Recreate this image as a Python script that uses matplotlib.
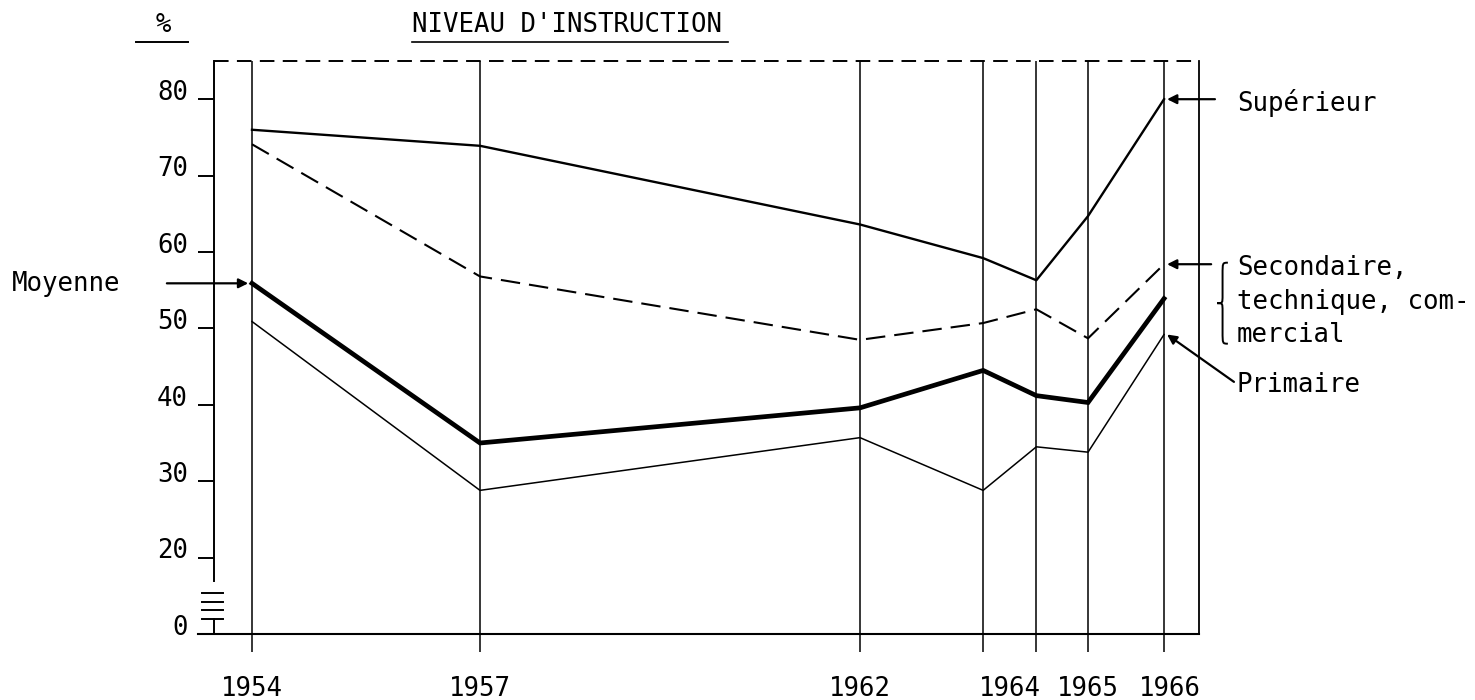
import matplotlib
matplotlib.use("Agg")
import matplotlib.pyplot as plt
from matplotlib.path import Path
from matplotlib.patches import PathPatch
from matplotlib.lines import Line2D

plt.rcParams['font.family'] = ['DejaVu Sans Mono', 'DejaVu Sans']
plt.rcParams['lines.scale_dashes'] = False

# survey dates (decimal years) and percentages
survey_dates = [1954, 1957, 1962, 1963.62, 1964.32, 1965.0, 1966.0]
superieur = [76.0, 73.9, 63.6, 59.2, 56.3, 64.7, 80.0]
secondaire = [74.1, 56.8, 48.5, 50.7, 52.5, 48.7, 58.4]
moyenne = [55.9, 35.0, 39.6, 44.5, 41.2, 40.3, 53.9]
primaire = [50.9, 28.8, 35.7, 28.8, 34.5, 33.8, 49.2]

year_labels = ['1954', '1957', '1962', '1964', '1965', '1966']
year_label_pos = [1954, 1957, 1962, 1963.97, 1965.0, 1966.08]
ytick_vals = [10, 20, 30, 40, 50, 60, 70, 80]
ytick_labels = ['0', '20', '30', '40', '50', '60', '70', '80']

FS = 18.5
X0, X1 = 1953.5, 1966.46
Y0, Y1 = 10, 85

fig = plt.figure(figsize=(14.75, 7), dpi=100)
ax = fig.add_axes([0.14508, 0.09429, 0.66780, 0.81857])
ax.set_xlim(X0, X1)
ax.set_ylim(Y0, Y1)
ax.axis('off')

# frame
ax.plot([X0, X1], [Y1, Y1], color='k', lw=1.4, dashes=(10.5, 6), clip_on=False)
ax.plot([X1, X1], [Y0, Y1], color='k', lw=1.3, clip_on=False)
ax.plot([1953.29, X1], [Y0, Y0], color='k', lw=1.5, clip_on=False)
ax.plot([X0, X0], [16.9, Y1], color='k', lw=1.4, clip_on=False)
ax.plot([X0, X0], [10, 12.0], color='k', lw=1.4, clip_on=False)
for yb in [15.4, 14.2, 13.2, 12.0]:
    ax.plot([1953.34, 1953.62], [yb, yb], color='k', lw=1.4, clip_on=False)

# survey verticals
ax.vlines(survey_dates, 7.6, Y1, color='k', lw=1.1, clip_on=False)

# y ticks and labels
ax.hlines(ytick_vals[1:], 1953.29, X0, color='k', lw=1.4, clip_on=False)
for v, lab in zip(ytick_vals, ytick_labels):
    ax.text(1953.16, v + 0.8, lab, ha='right', va='center', fontsize=FS)

# year labels
for p, lab in zip(year_label_pos, year_labels):
    ax.text(p, 2.8, lab, ha='center', va='center', fontsize=FS)

# series
ax.plot(survey_dates, superieur, color='k', lw=1.7, clip_on=False)
ax.plot(survey_dates, secondaire, color='k', lw=1.5, dashes=(14, 6.5), clip_on=False)
ax.plot(survey_dates, moyenne, color='k', lw=3.4, solid_joinstyle='miter', clip_on=False)
ax.plot(survey_dates, primaire, color='k', lw=1.1, clip_on=False)

arrow = dict(arrowstyle='-|>', color='k', lw=1.6, mutation_scale=14, shrinkA=0, shrinkB=0)

# left annotation
ax.text(1950.84, 55.75, 'Moyenne', ha='left', va='center', fontsize=FS)
ax.annotate('', xy=(1953.95, moyenne[0]), xytext=(1952.88, moyenne[0]),
            arrowprops=arrow, annotation_clip=False)

# right annotations
ax.annotate('', xy=(1966.04, superieur[-1]), xytext=(1966.67, superieur[-1]),
            arrowprops=arrow, annotation_clip=False)
ax.text(1966.96, 79.5, 'Supérieur', ha='left', va='center', fontsize=FS)

ax.annotate('', xy=(1966.04, secondaire[-1]), xytext=(1966.62, secondaire[-1]),
            arrowprops=arrow, annotation_clip=False)
ax.text(1966.96, 57.9, 'Secondaire,', ha='left', va='center', fontsize=FS)
ax.text(1966.96, 53.5, 'technique, com-', ha='left', va='center', fontsize=FS)
ax.text(1966.96, 49.2, 'mercial', ha='left', va='center', fontsize=FS)

ax.annotate('', xy=(1966.04, primaire[-1]), xytext=(1966.92, 43.0),
            arrowprops=arrow, annotation_clip=False)
ax.text(1966.96, 42.6, 'Primaire', ha='left', va='center', fontsize=FS)

# curly brace grouping the secondaire label
xl, xr = 1966.70, 1966.84
yb0, yb1 = 48.0, 58.6
xm = (xl + xr) / 2
ym = (yb0 + yb1) / 2
H = yb1 - yb0
verts = [(xr, yb1), (xm, yb1), (xm, yb1), (xm, yb1 - 0.15 * H),
         (xm, ym + 0.1 * H),
         (xm, ym), (xm, ym), (xl, ym),
         (xm, ym), (xm, ym), (xm, ym - 0.1 * H),
         (xm, yb0 + 0.15 * H),
         (xm, yb0), (xm, yb0), (xr, yb0)]
codes = [Path.MOVETO, Path.CURVE4, Path.CURVE4, Path.CURVE4,
         Path.LINETO,
         Path.CURVE4, Path.CURVE4, Path.CURVE4,
         Path.CURVE4, Path.CURVE4, Path.CURVE4,
         Path.LINETO,
         Path.CURVE4, Path.CURVE4, Path.CURVE4]
ax.add_patch(PathPatch(Path(verts, codes), fill=False, lw=1.4, color='k', clip_on=False))

# titles
fig.text(0.1105, 0.964, '%', ha='center', va='center', fontsize=FS)
fig.add_artist(Line2D([136 / 1475, 188 / 1475], [0.94, 0.94], color='k', lw=1.4))
fig.text(412 / 1475, 0.964, "NIVEAU D'INSTRUCTION", ha='left', va='center', fontsize=FS)
fig.add_artist(Line2D([412 / 1475, 728 / 1475], [0.94, 0.94], color='k', lw=1.2))

fig.savefig('out.png', dpi=100, facecolor='white')
